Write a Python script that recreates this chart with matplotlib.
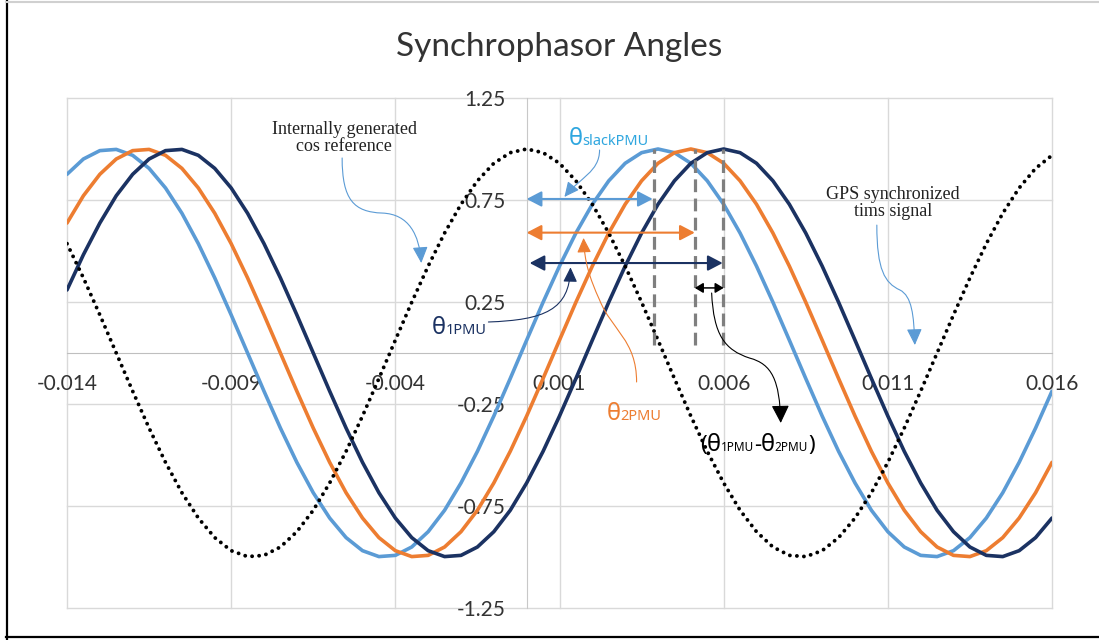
import numpy as np
import matplotlib
matplotlib.use("Agg")
import matplotlib.pyplot as plt
from matplotlib.patches import FancyArrowPatch
from matplotlib.path import Path
from matplotlib.lines import Line2D
from matplotlib.transforms import ScaledTranslation

# ---------------- data ----------------
time = np.round(np.linspace(-0.014, 0.016, 61), 4)

theta_slack_pmu = [0.876, 0.951, 0.992, 0.998, 0.969, 0.905, 0.809, 0.685, 0.536, 0.368,
                   0.187, 0.000, -0.187, -0.368, -0.536, -0.685, -0.809, -0.905, -0.969, -0.998,
                   -0.992, -0.951, -0.876, -0.771, -0.637, -0.482, -0.309, -0.125, 0.063, 0.249,
                   0.426, 0.588, 0.729, 0.844, 0.930, 0.982, 1.000, 0.982, 0.930, 0.844,
                   0.729, 0.588, 0.426, 0.249, 0.063, -0.125, -0.309, -0.482, -0.637, -0.771,
                   -0.876, -0.951, -0.992, -0.998, -0.969, -0.905, -0.809, -0.685, -0.536, -0.368,
                   -0.187]

theta_2_pmu = [0.637, 0.771, 0.876, 0.951, 0.992, 0.998, 0.969, 0.905, 0.809, 0.685,
               0.536, 0.368, 0.187, 0.000, -0.187, -0.368, -0.536, -0.685, -0.809, -0.905,
               -0.969, -0.998, -0.992, -0.951, -0.876, -0.771, -0.637, -0.482, -0.309, -0.125,
               0.063, 0.249, 0.426, 0.588, 0.729, 0.844, 0.930, 0.982, 1.000, 0.982,
               0.930, 0.844, 0.729, 0.588, 0.426, 0.249, 0.063, -0.125, -0.309, -0.482,
               -0.637, -0.771, -0.876, -0.951, -0.992, -0.998, -0.969, -0.905, -0.809, -0.685,
               -0.536]

theta_1_pmu = [0.309, 0.482, 0.637, 0.771, 0.876, 0.951, 0.992, 0.998, 0.969, 0.905,
               0.809, 0.685, 0.536, 0.368, 0.187, 0.000, -0.187, -0.368, -0.536, -0.685,
               -0.809, -0.905, -0.969, -0.998, -0.992, -0.951, -0.876, -0.771, -0.637, -0.482,
               -0.309, -0.125, 0.063, 0.249, 0.426, 0.588, 0.729, 0.844, 0.930, 0.982,
               1.000, 0.982, 0.930, 0.844, 0.729, 0.588, 0.426, 0.249, 0.063, -0.125,
               -0.309, -0.482, -0.637, -0.771, -0.876, -0.951, -0.992, -0.998, -0.969, -0.905,
               -0.809]

cos_reference = [0.536, 0.368, 0.187, 0.000, -0.187, -0.368, -0.536, -0.685, -0.809, -0.905,
                 -0.969, -0.998, -0.992, -0.951, -0.876, -0.771, -0.637, -0.482, -0.309, -0.125,
                 0.063, 0.249, 0.426, 0.588, 0.729, 0.844, 0.930, 0.982, 1.000, 0.982,
                 0.930, 0.844, 0.729, 0.588, 0.426, 0.249, 0.063, -0.125, -0.309, -0.482,
                 -0.637, -0.771, -0.876, -0.951, -0.992, -0.998, -0.969, -0.905, -0.809, -0.685,
                 -0.536, -0.368, -0.187, 0.000, 0.187, 0.368, 0.536, 0.685, 0.809, 0.905,
                 0.969]

peak_markers = [0.00387, 0.00514, 0.00599]

x_ticks = [-0.014, -0.009, -0.004, 0.001, 0.006, 0.011, 0.016]
x_labels = ["-0.014", "-0.009", "-0.004", "0.001", "0.006", "0.011", "0.016"]
y_ticks = [1.25, 0.75, 0.25, -0.25, -0.75, -1.25]
y_labels = ["1.25", "0.75", "0.25", "-0.25", "-0.75", "-1.25"]

C_LIGHT = "#5B9BD5"
C_ORANGE = "#ED7D31"
C_NAVY = "#1B3262"
C_SLACK_TXT = "#2EA6DF"
GRID = "#D9D9D9"

# ---------------- figure ----------------
fig = plt.figure(figsize=(10.99, 6.4), dpi=100)
ax = fig.add_axes([67 / 1099, 32 / 640, 985 / 1099, 510 / 640])
ax.set_xlim(-0.014, 0.016)
ax.set_ylim(-1.25, 1.25)

for t in x_ticks:
    ax.axvline(t, color=GRID, lw=1, zorder=0, clip_on=False)
for v in y_ticks:
    ax.axhline(v, color=GRID, lw=1, zorder=0, clip_on=False)

for s in ["top", "right"]:
    ax.spines[s].set_visible(False)
ax.spines["left"].set_position(("data", 0))
ax.spines["bottom"].set_position(("data", 0))
ax.spines["left"].set_color("#C8C8C8")
ax.spines["bottom"].set_color("#BFBFBF")
ax.spines["left"].set_zorder(0.5)
ax.spines["bottom"].set_zorder(0.5)

ax.set_xticks(x_ticks)
ax.set_xticklabels(x_labels)
ax.set_yticks(y_ticks)
ax.set_yticklabels(y_labels)
ax.tick_params(axis="both", length=0, labelsize=15, labelcolor="#333333")
ax.tick_params(axis="x", pad=15)
ax.tick_params(axis="y", pad=15)
for lab in ax.get_xticklabels() + ax.get_yticklabels():
    lab.set_family("Lato")
    lab.set_zorder(6)

# series
line_kw = dict(lw=2.6, solid_joinstyle="round", solid_capstyle="round")
ax.plot(time, theta_slack_pmu, color=C_LIGHT, zorder=2, **line_kw)
ax.plot(time, theta_2_pmu, color=C_ORANGE, zorder=2.1, **line_kw)
ax.plot(time, theta_1_pmu, color=C_NAVY, zorder=2.2, **line_kw)
ax.plot(time, cos_reference, color="black", lw=2.8, linestyle=(0, (0.01, 1.8)),
        dash_capstyle="round", zorder=2.3)

# dashed peak markers
ax.vlines(peak_markers, 0.04, 1.0, colors="#7F7F7F", lw=2.3,
          linestyles=[(0, (4, 2))], zorder=3)

# title
fig.text(0.509, 1 - 47 / 640, "Synchrophasor Angles", ha="center", va="center",
         fontsize=24, family="Lato", color="#333333")

# figure border
fig.add_artist(Line2D([6.5 / 1099, 6.5 / 1099], [0, 1], color="black", lw=1.6,
                      transform=fig.transFigure))
fig.add_artist(Line2D([6 / 1099, 1], [1 - 636.5 / 640] * 2, color="black", lw=1.6,
                      transform=fig.transFigure))
fig.add_artist(Line2D([6 / 1099, 1], [1 - 1.5 / 640] * 2, color="#D0D0D0", lw=1.5,
                      transform=fig.transFigure))


# ---------------- annotations ----------------
def harrow(x0, x1, y, color, lw, hl, hw):
    a = FancyArrowPatch(posA=(x0, y), posB=(x1, y),
                        arrowstyle=f"<|-|>,head_length={hl},head_width={hw}",
                        color=color, lw=lw, mutation_scale=1, shrinkA=0, shrinkB=0,
                        transform=ax.transData, zorder=5, clip_on=False)
    ax.add_patch(a)


def curve(points, color, lw, hl, hw):
    codes = [Path.MOVETO] + [Path.CURVE4] * (len(points) - 1)
    p = Path(points, codes)
    a = FancyArrowPatch(path=p, arrowstyle=f"-|>,head_length={hl},head_width={hw}",
                        color=color, lw=lw, mutation_scale=1,
                        transform=ax.transData, zorder=5, clip_on=False)
    ax.add_patch(a)


harrow(0.0, 0.00384, 0.755, C_LIGHT, 1.5, 9, 4.7)
harrow(0.0, 0.00512, 0.590, C_ORANGE, 1.5, 9, 4.7)
harrow(0.00009, 0.00597, 0.441, C_NAVY, 1.5, 9, 4.7)
harrow(0.00512, 0.0060, 0.319, "black", 1.1, 5, 3)

# internally generated cos reference
curve([(-0.00562, 0.956), (-0.00562, 0.750), (-0.00526, 0.691), (-0.00440, 0.686),
       (-0.00358, 0.681), (-0.00327, 0.578), (-0.00321, 0.441)], C_LIGHT, 0.8, 10, 4.7)
# GPS synchronized
curve([(0.010665, 0.627), (0.010665, 0.407), (0.010909, 0.343), (0.011366, 0.309),
       (0.011732, 0.279), (0.011793, 0.186), (0.011823, 0.039)], C_LIGHT, 0.8, 10, 4.7)
# theta slack
curve([(0.00222, 0.995), (0.00222, 0.888), (0.00161, 0.858), (0.00115, 0.765)],
      C_LIGHT, 0.8, 9, 4.3)
# theta 1
curve([(-0.001165, 0.152), (0.000543, 0.162), (0.001305, 0.211), (0.001335, 0.420)],
      C_NAVY, 0.8, 9, 4.3)
# theta 2
curve([(0.003348, -0.142), (0.003348, 0.064), (0.002585, 0.113), (0.002220, 0.260),
       (0.001915, 0.368), (0.001762, 0.446), (0.001732, 0.564)], C_ORANGE, 0.8, 9, 4.3)
# difference
curve([(0.005634, 0.294), (0.005695, 0.088), (0.006030, 0.015), (0.006793, -0.025),
       (0.007463, -0.054), (0.007707, -0.132), (0.007738, -0.343)], "black", 0.8, 11, 5.5)

ax.text(-0.00556, 1.054, "Internally generated\ncos reference", ha="center", va="center",
        family="Liberation Serif", fontsize=13, color="#222222", linespacing=1.05, zorder=6)
ax.text(0.01115, 0.735, "GPS synchronized\ntims signal", ha="center", va="center",
        family="Liberation Serif", fontsize=13, color="#222222", linespacing=1.05, zorder=6)

renderer = fig.canvas.get_renderer()


def rich_text(x, y, pieces, color):
    off = 0.0
    for s, size in pieces:
        tr = ax.transData + ScaledTranslation(off / fig.dpi, 0, fig.dpi_scale_trans)
        t = ax.text(x, y, s, transform=tr, fontsize=size, color=color,
                    family=["Noto Sans", "DejaVu Sans"], ha="left", va="baseline", zorder=6)
        off += t.get_window_extent(renderer).width


rich_text(0.00127, 1.020, [("θ", 17), ("slackPMU", 10.5)], C_SLACK_TXT)
rich_text(-0.00290, 0.093, [("θ", 17), ("1PMU", 10.5)], C_NAVY)
rich_text(0.00243, -0.328, [("θ", 17), ("2PMU", 10.5)], C_ORANGE)
rich_text(0.00527, -0.480, [("(", 16), ("θ", 17), ("1PMU", 8.5), ("-", 16), ("θ", 17),
                            ("2PMU", 8.5), (")", 16)], "black")

fig.savefig("out.png", dpi=100)
